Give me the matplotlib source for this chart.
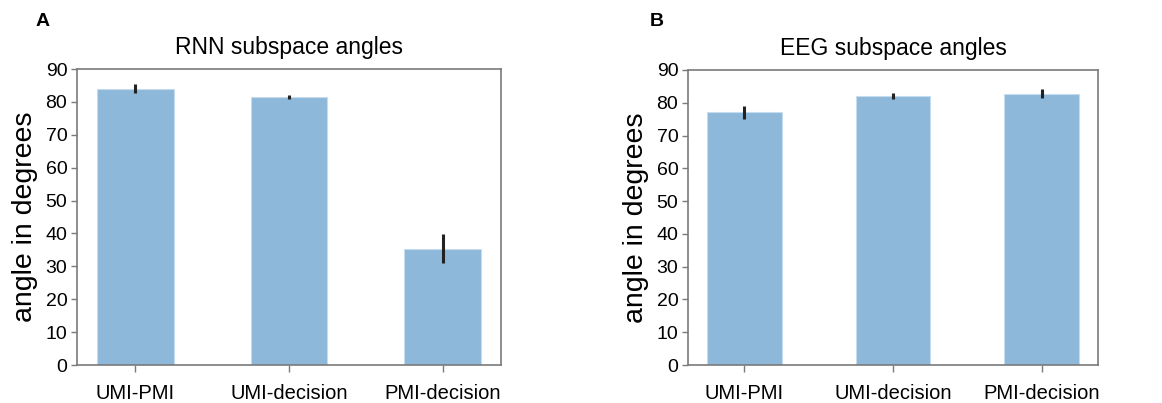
import matplotlib.pyplot as plt

plt.rcParams['font.family'] = ['Liberation Sans', 'DejaVu Sans']

pairs = ['UMI-PMI', 'UMI-decision', 'PMI-decision']

rnn_angles = [84.0, 81.5, 35.4]
rnn_err = [1.4, 0.5, 4.3]

eeg_angles = [77.1, 82.1, 82.8]
eeg_err = [2.0, 1.0, 1.3]

BAR_COLOR = '#8db8d9'
SPINE_COLOR = '#7a7a7a'


def draw_panel(ax, values, errors, title):
    x = range(len(pairs))
    ax.bar(x, values, width=0.5, color=BAR_COLOR, edgecolor='#c5dcee', linewidth=0.8, zorder=2)
    ax.errorbar(x, values, yerr=errors, fmt='none', ecolor='#222222', elinewidth=2.2, capsize=0, zorder=3)
    ax.set_xlim(-0.38, 2.38)
    ax.set_ylim(0, 90)
    ax.set_yticks(range(0, 91, 10))
    ax.set_xticks(list(x))
    ax.set_xticklabels(pairs)
    ax.tick_params(axis='y', labelsize=14, length=4, width=1, color=SPINE_COLOR, pad=3)
    ax.tick_params(axis='x', labelsize=14.5, length=5, width=1, color=SPINE_COLOR, pad=9)
    for side in ax.spines.values():
        side.set_color(SPINE_COLOR)
        side.set_linewidth(1.2)
    ax.set_ylabel('angle in degrees', fontsize=20.5, labelpad=5)
    ax.set_title(title, fontsize=16.5, pad=11)


fig = plt.figure(figsize=(11.62, 4.03), dpi=100)
ax_a = fig.add_axes([77 / 1162, 1 - 365 / 403, 424 / 1162, 296 / 403])
ax_b = fig.add_axes([688 / 1162, 1 - 365 / 403, 410 / 1162, 295 / 403])

draw_panel(ax_a, rnn_angles, rnn_err, 'RNN subspace angles')
draw_panel(ax_b, eeg_angles, eeg_err, 'EEG subspace angles')

fig.text(43 / 1162, 1 - 22 / 403, 'A', fontsize=14, fontweight='bold', ha='center', va='center')
fig.text(657 / 1162, 1 - 22 / 403, 'B', fontsize=14, fontweight='bold', ha='center', va='center')

fig.savefig('out.png', dpi=100)
